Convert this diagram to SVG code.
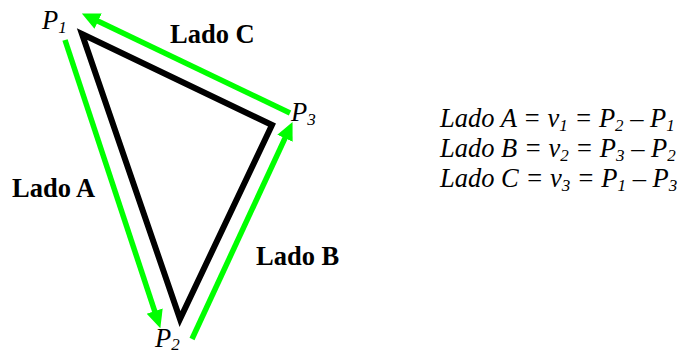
<svg xmlns="http://www.w3.org/2000/svg" width="683" height="354" viewBox="0 0 683 354">
<defs>
<style>
.tri{fill:none;stroke:#000;stroke-width:6;stroke-linejoin:miter}
.side{fill:none;stroke:#00ff00;stroke-width:5.5;marker-end:url(#ah)}
.lbl{font-family:"Liberation Serif","Times New Roman",serif;font-weight:bold;font-size:26.5px;fill:#000}
.it{font-family:"Liberation Serif","Times New Roman",serif;font-style:italic;font-size:26.5px;fill:#000}
.sub{font-size:17px}
</style>
<marker id="ah" markerUnits="userSpaceOnUse" markerWidth="18" markerHeight="18" viewBox="0 -8 16 16" refX="6" refY="0" orient="auto">
<path d="M0,-7.5 L16,0 L0,7.5 Z" fill="#00ff00"/>
</marker>
</defs>
<rect width="683" height="354" fill="#fff"/>
<g id="triangle">
<polygon class="tri" points="82,34 272,125 180,319"/>
</g>
<g id="connectors">
<line class="side" x1="65" y1="40" x2="156.8" y2="317.5"/>
<line class="side" x1="192" y1="339" x2="287.8" y2="132.1"/>
<line class="side" x1="290" y1="113" x2="92" y2="18.3"/>
</g>
<g id="P1"><text class="it" x="42" y="29">P<tspan class="sub" dy="4">1</tspan></text></g>
<g id="P2"><text class="it" x="155" y="347">P<tspan class="sub" dy="3">2</tspan></text></g>
<g id="P3"><text class="it" x="291" y="121">P<tspan class="sub" dy="4">3</tspan></text></g>
<g id="ladoA"><text class="lbl" x="12" y="197">Lado A</text></g>
<g id="ladoB"><text class="lbl" x="256" y="265">Lado B</text></g>
<g id="ladoC"><text class="lbl" x="170" y="43">Lado C</text></g>
<g id="equations">
<text class="it" x="440" y="127">Lado A = v<tspan class="sub" dy="4">1</tspan><tspan dy="-4"> = P</tspan><tspan class="sub" dy="4">2</tspan><tspan dy="-4"> – P</tspan><tspan class="sub" dy="4">1</tspan></text>
<text class="it" x="440" y="157">Lado B = v<tspan class="sub" dy="4">2</tspan><tspan dy="-4"> = P</tspan><tspan class="sub" dy="4">3</tspan><tspan dy="-4"> – P</tspan><tspan class="sub" dy="4">2</tspan></text>
<text class="it" x="440" y="187">Lado C = v<tspan class="sub" dy="4">3</tspan><tspan dy="-4"> = P</tspan><tspan class="sub" dy="4">1</tspan><tspan dy="-4"> – P</tspan><tspan class="sub" dy="4">3</tspan></text>
</g>
</svg>
